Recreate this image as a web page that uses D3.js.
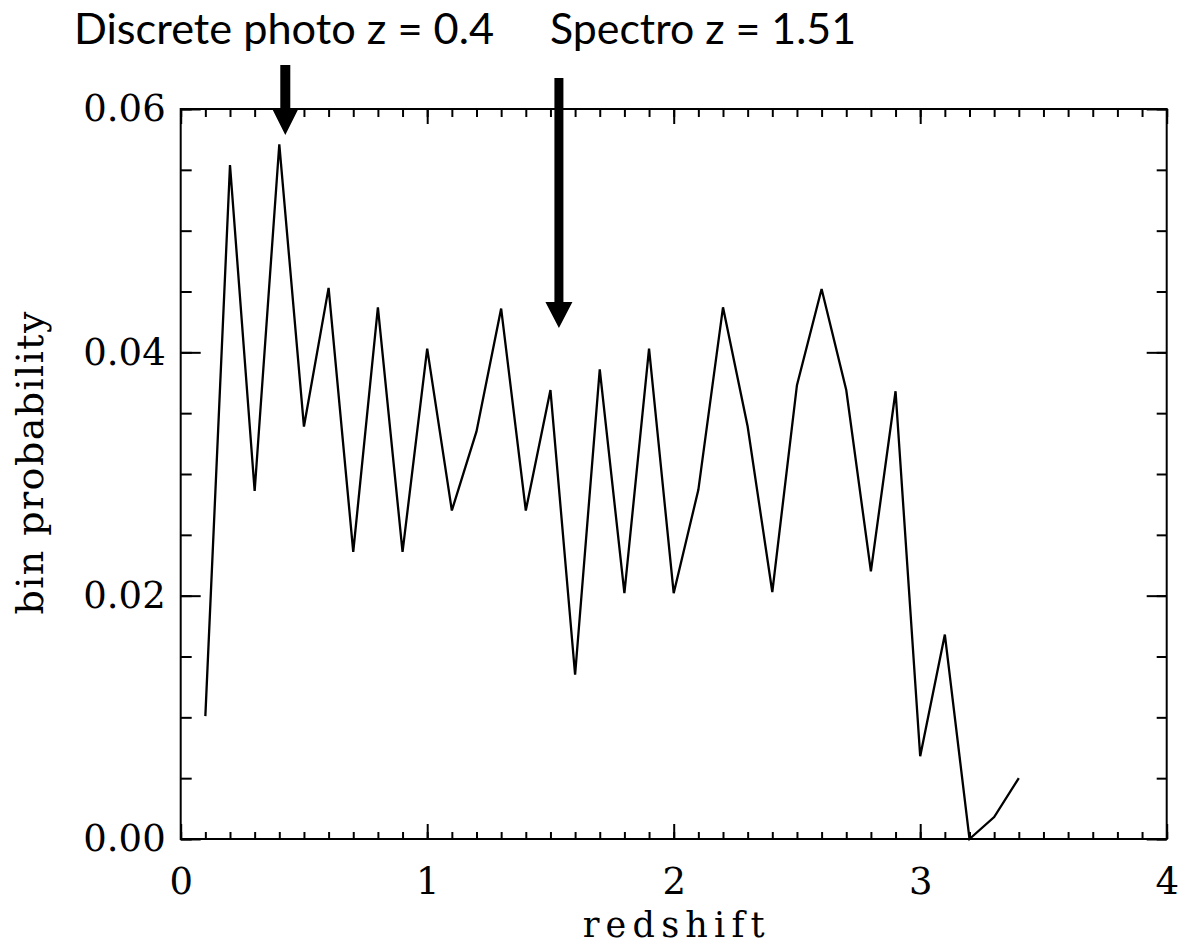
<!DOCTYPE html>
<html>
<head>
<meta charset="utf-8">
<script src="https://cdn.jsdelivr.net/npm/d3@7/dist/d3.min.js"></script>
<style>
  body { margin: 0; background: #fff; }
</style>
</head>
<body>
<div id="chart"></div>
<script>
// 1. DATA
const redshift = [0.1, 0.2, 0.3, 0.4, 0.5, 0.6, 0.7, 0.8, 0.9, 1.0,
                  1.1, 1.2, 1.3, 1.4, 1.5, 1.6, 1.7, 1.8, 1.9, 2.0,
                  2.1, 2.2, 2.3, 2.4, 2.5, 2.6, 2.7, 2.8, 2.9, 3.0,
                  3.1, 3.2, 3.3, 3.4]
const binProbability = [0.0101, 0.0554, 0.0286, 0.0571, 0.0339, 0.0453, 0.0236, 0.0437, 0.0236, 0.0403,
                        0.0270, 0.0335, 0.0436, 0.0270, 0.0369, 0.0135, 0.0386, 0.0202, 0.0403, 0.0202,
                        0.0287, 0.0437, 0.0339, 0.0203, 0.0373, 0.0452, 0.0369, 0.0220, 0.0368, 0.0068,
                        0.0168, 0.0000, 0.0018, 0.0050]
const xTicks = [0, 1, 2, 3, 4]
const yTicks = [0, 0.02, 0.04, 0.06]
const markerZ = [0.4, 1.51]
const markerLabels = ["Discrete photo z = 0.4", "Spectro z = 1.51"]

const dataset = redshift.map((z, i) => ({ z: z, p: binProbability[i] }))

// 2. DIMENSIONS
const dimensions = {
    width: 1178,
    height: 947,
    margin: { top: 109, right: 11.3, bottom: 108, left: 180.7 }
}
dimensions.boundedWidth = dimensions.width - dimensions.margin.left - dimensions.margin.right
dimensions.boundedHeight = dimensions.height - dimensions.margin.top - dimensions.margin.bottom

// 3. CANVAS
const wrapper = d3.select("#chart")
    .append("svg")
    .attr("width", dimensions.width)
    .attr("height", dimensions.height)

wrapper.append("rect")
    .attr("width", dimensions.width)
    .attr("height", dimensions.height)
    .attr("fill", "#fff")

const bounds = wrapper.append("g")
    .attr("transform", `translate(${dimensions.margin.left},${dimensions.margin.top})`)

// 4. SCALES
const xScale = d3.scaleLinear()
    .domain([0, 4])
    .range([0, dimensions.boundedWidth])

const yScale = d3.scaleLinear()
    .domain([0, 0.06])
    .range([dimensions.boundedHeight, 0])

const serif = "'DejaVu Serif', 'Liberation Serif', serif"

// 5. AXES (ticks on all four sides, pointing inward)
const styleAxis = g => {
    g.select(".domain").remove()
    g.selectAll(".tick line").attr("stroke", "#000").attr("stroke-width", 2)
    g.selectAll(".tick text")
        .attr("fill", "#000")
        .style("font-family", serif)
        .style("font-size", "37px")
}

const xMinor = d3.range(0, 40.5).map(d => d / 10)
const yMinor = d3.range(0, 12.5).map(d => d * 0.005)

bounds.append("g")
    .attr("transform", `translate(0,${dimensions.boundedHeight})`)
    .call(d3.axisBottom(xScale).tickValues(xMinor).tickSize(-7).tickFormat(""))
    .call(styleAxis)

bounds.append("g")
    .attr("transform", `translate(0,${dimensions.boundedHeight})`)
    .call(d3.axisBottom(xScale).tickValues(xTicks).tickSize(-15).tickPadding(29).tickFormat(d3.format("d")))
    .call(styleAxis)

bounds.append("g")
    .call(d3.axisTop(xScale).tickValues(xMinor).tickSize(-8).tickFormat(""))
    .call(styleAxis)

bounds.append("g")
    .call(d3.axisTop(xScale).tickValues(xTicks).tickSize(-15).tickFormat(""))
    .call(styleAxis)

bounds.append("g")
    .call(d3.axisLeft(yScale).tickValues(yMinor).tickSize(-11).tickFormat(""))
    .call(styleAxis)

bounds.append("g")
    .call(d3.axisLeft(yScale).tickValues(yTicks).tickSize(-20).tickPadding(15).tickFormat(d3.format(".2f")))
    .call(styleAxis)

bounds.append("g")
    .attr("transform", `translate(${dimensions.boundedWidth},0)`)
    .call(d3.axisRight(yScale).tickValues(yMinor).tickSize(-10).tickFormat(""))
    .call(styleAxis)

bounds.append("g")
    .attr("transform", `translate(${dimensions.boundedWidth},0)`)
    .call(d3.axisRight(yScale).tickValues(yTicks).tickSize(-20).tickFormat(""))
    .call(styleAxis)

bounds.append("rect")
    .attr("width", dimensions.boundedWidth)
    .attr("height", dimensions.boundedHeight)
    .attr("fill", "none")
    .attr("stroke", "#000")
    .attr("stroke-width", 2)

// 6. LINE
const lineGenerator = d3.line()
    .x(d => xScale(d.z))
    .y(d => yScale(d.p))

bounds.append("path")
    .attr("d", lineGenerator(dataset))
    .attr("fill", "none")
    .attr("stroke", "#000")
    .attr("stroke-width", 2.3)
    .attr("stroke-linejoin", "miter")

// axis titles
bounds.append("text")
    .attr("x", xScale(2))
    .attr("y", dimensions.boundedHeight + 98)
    .attr("text-anchor", "middle")
    .attr("textLength", 182)
    .attr("lengthAdjust", "spacing")
    .style("font-family", serif)
    .style("font-size", "35px")
    .text("redshift")

bounds.append("text")
    .attr("transform", `translate(${43 - dimensions.margin.left},${yScale(0.0309)}) rotate(-90)`)
    .attr("text-anchor", "middle")
    .attr("textLength", 303)
    .attr("lengthAdjust", "spacing")
    .style("font-family", serif)
    .style("font-size", "38px")
    .text("bin probability")

// 7. ANNOTATION ARROWS
const arrowNudge = 6
const arrowSpec = [
    { top: 65, headTop: 109, tip: 135, shaft: 10, head: 26, textX: 74, textW: 420 },
    { top: 78, headTop: 302, tip: 328, shaft: 9, head: 27, textX: 550, textW: 306 }
]

markerZ.forEach((z, i) => {
    const s = arrowSpec[i]
    const cx = dimensions.margin.left + xScale(z) + arrowNudge
    const p = d3.path()
    p.moveTo(cx - s.shaft / 2, s.top)
    p.lineTo(cx + s.shaft / 2, s.top)
    p.lineTo(cx + s.shaft / 2, s.headTop)
    p.lineTo(cx + s.head / 2, s.headTop)
    p.lineTo(cx, s.tip)
    p.lineTo(cx - s.head / 2, s.headTop)
    p.lineTo(cx - s.shaft / 2, s.headTop)
    p.closePath()
    wrapper.append("path")
        .attr("d", p.toString())
        .attr("fill", "#000")

    wrapper.append("text")
        .attr("x", s.textX)
        .attr("y", 44)
        .attr("textLength", s.textW)
        .attr("lengthAdjust", "spacingAndGlyphs")
        .style("font-family", "Lato, 'Open Sans', sans-serif")
        .style("font-size", "43px")
        .text(markerLabels[i])
})
</script>
</body>
</html>
